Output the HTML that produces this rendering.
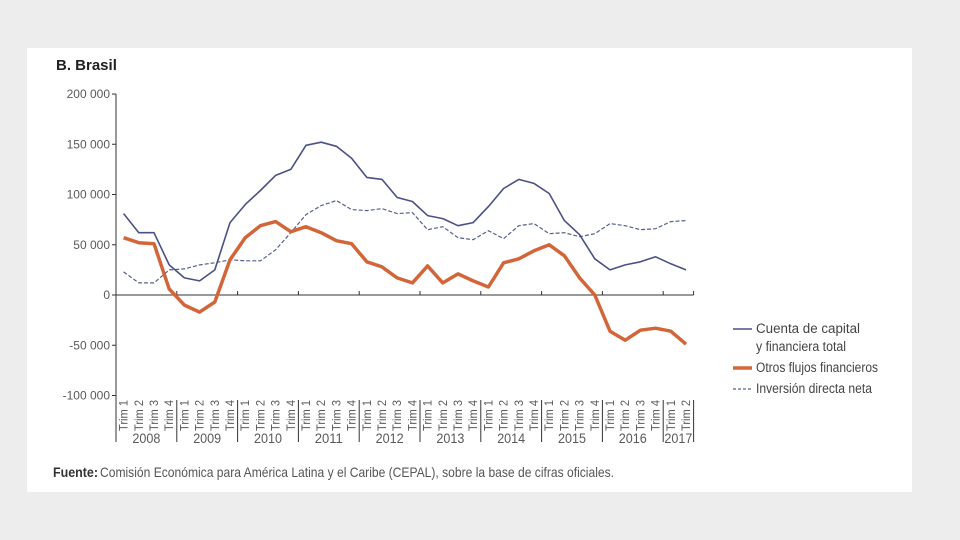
<!DOCTYPE html>
<html><head><meta charset="utf-8"><style>
body{margin:0;width:960px;height:540px;background:#ededed;overflow:hidden;font-family:"Liberation Sans Narrow","Liberation Sans",sans-serif}
#panel{position:absolute;left:27px;top:48px;width:885px;height:444px;background:#fff}
svg{position:absolute;left:0;top:0}
text{font-family:"Liberation Sans Narrow","Liberation Sans",sans-serif;fill:#5a5a5a}
</style></head><body>
<div id="panel"></div>
<svg id="chart" width="960" height="540"></svg>
<script>
const years=["2008","2009","2010","2011","2012","2013","2014","2015","2016","2017"];
const quarterLabels=["Trim 1","Trim 2","Trim 3","Trim 4"];
const yTicks=[200000,150000,100000,50000,0,-50000,-100000];
const cuentaTotal=[81,62,62,30,17,14,25,72,90,104,119,125,149,152,148,136,117,115,97,93,79,76,69,72,88,106,115,111,101,74,60,36,25,30,33,38,31,25];
const otrosFlujos=[57,52,51,6,-10,-17,-7,35,57,69,73,63,68,62,54,51,33,28,17,12,29,12,21,14,8,32,36,44,50,39,17,0,-36,-45,-35,-33,-36,-49];
const inversionDirecta=[23,12,12,25,26,30,32,35,34,34,45,62,80,89,94,85,84,86,81,82,65,68,57,55,64,56,69,71,61,62,58,61,71,69,65,66,73,74];
const NS="http://www.w3.org/2000/svg";
const svg=document.getElementById('chart');
function el(tag,attrs,parent){const e=document.createElementNS(NS,tag);for(const k in attrs)e.setAttribute(k,attrs[k]);(parent||svg).appendChild(e);return e;}
const x0=116,step=15.2,nQ=38;
const xs=i=>x0+step*(i+0.5);
const ys=v=>295-v*(201/200000);
let t=el('text',{x:56,y:70,'font-size':15,'font-weight':'bold',style:'fill:#222'});t.textContent="B. Brasil";


let ax=el('line',{x1:x0,y1:94,x2:x0,y2:442,stroke:'#333','stroke-width':1});


yTicks.forEach(v=>{
 const y=ys(v);
 el('line',{x1:x0-4,y1:y,x2:x0,y2:y,stroke:'#333'});
 const tt=el('text',{x:x0-6,y:y+4,'text-anchor':'end','font-size':12});
 tt.textContent=(v<0?"-":"")+Math.abs(v).toLocaleString('en').replace(/,/g,' ');
 
 
});
let zl=el('line',{x1:x0,y1:ys(0),x2:x0+step*nQ,y2:ys(0),stroke:'#333'});


for(let i=0;i<nQ;i++){
 const q=el('text',{transform:`translate(${xs(i)+4},431) rotate(-90)`,'font-size':12,textLength:31,lengthAdjust:'spacingAndGlyphs'});
 q.textContent=quarterLabels[i%4];
 
 
}
years.forEach((yr,k)=>{
 const n=Math.min(4,nQ-k*4);
 const xa=x0+step*4*k,xb=xa+step*n;
 if(k>0){el('line',{x1:xa,y1:400,x2:xa,y2:442,stroke:'#333'});el('line',{x1:xa,y1:ys(0),x2:xa,y2:ys(0)-4,stroke:'#333'});}
 const yt=el('text',{x:(xa+xb)/2,y:443,'text-anchor':'middle','font-size':13.5,textLength:28,lengthAdjust:'spacingAndGlyphs'});
 yt.textContent=yr;
 
 
});
el('line',{x1:x0+step*nQ,y1:400,x2:x0+step*nQ,y2:442,stroke:'#333'});
el('line',{x1:x0+step*nQ,y1:ys(0),x2:x0+step*nQ,y2:ys(0)-4,stroke:'#333'});
function series(arr,stroke,w,dash,name){
 const d=arr.map((v,i)=>(i?'L':'M')+xs(i).toFixed(1)+','+ys(v*1000).toFixed(1)).join('');
 const p=el('path',{d:d,fill:'none',stroke:stroke,'stroke-width':w,'stroke-linejoin':'round'});
 if(dash)p.setAttribute('stroke-dasharray',dash);
 
 
}
series(inversionDirecta,'#56608f',1.2,'4,2','line-inversion-directa');
series(cuentaTotal,'#4a5184',1.6,null,'line-cuenta-total');
series(otrosFlujos,'#d2663a',3.5,null,'line-otros-flujos');
const leg=[["Cuenta de capital",333,'#4a5184',1.6,null,'legend-cuenta-total',104],["Otros flujos financieros",372,'#d2663a',3.5,null,'legend-otros-flujos',122],["Inversión directa neta",393,'#56608f',1.2,'3,2','legend-inversion-directa',116]];
leg.forEach(l=>{
 const g=el('g',{});
 
 
 const ln=el('line',{x1:733,y1:l[1]-4,x2:752,y2:l[1]-4,stroke:l[2],'stroke-width':l[3]},g);
 if(l[4])ln.setAttribute('stroke-dasharray',l[4]);
 const tx=el('text',{x:756,y:l[1],'font-size':13.5,style:'fill:#444',textLength:l[6],lengthAdjust:'spacingAndGlyphs'},g);tx.textContent=l[0];
});
let t2=el('text',{x:756,y:351,'font-size':13.5,style:'fill:#444',textLength:90,lengthAdjust:'spacingAndGlyphs'});t2.textContent="y financiera total";


const f1=el('text',{x:53,y:477,'font-size':14,'font-weight':'bold',style:'fill:#333',textLength:45,lengthAdjust:'spacingAndGlyphs'});
f1.textContent="Fuente:";


const f=el('text',{x:100,y:477,'font-size':14,style:'fill:#555',textLength:514,lengthAdjust:'spacingAndGlyphs'});
f.textContent="Comisión Económica para América Latina y el Caribe (CEPAL), sobre la base de cifras oficiales.";


</script>
</body></html>
